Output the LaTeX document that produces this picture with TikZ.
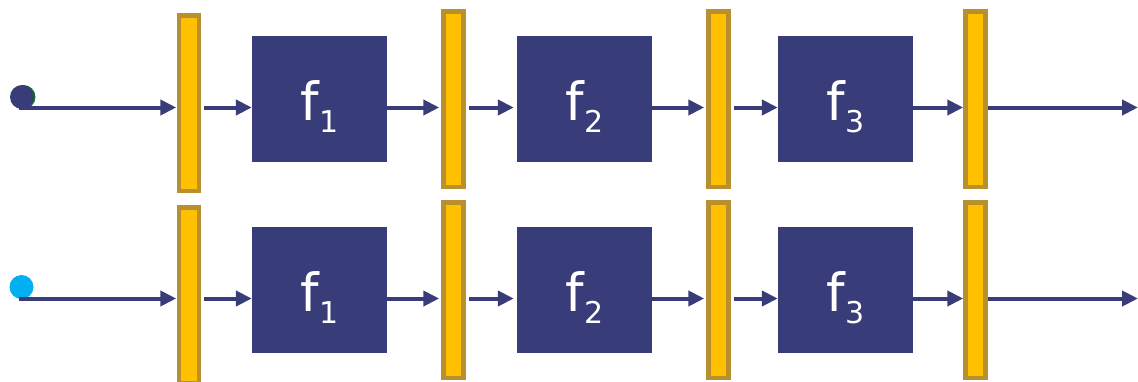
\documentclass[tikz,border=0pt]{standalone}
\usepackage{fontspec}
\setmainfont{DejaVu Sans}
\usetikzlibrary{arrows.meta}
\definecolor{navy}{HTML}{383C78}
\definecolor{barfill}{HTML}{FFC000}
\definecolor{barrim}{HTML}{B8902F}
\definecolor{rimgreen}{HTML}{0A7A10}
\definecolor{skyblue}{HTML}{00B0F0}
\tikzset{
  fbox/.style={fill=navy, draw=none, minimum width=135pt, minimum height=126pt,
    inner sep=0pt, text=white, text height=42pt, text depth=0pt,
    font=\fontsize{52.6}{60}\selectfont},
  latch/.style={fill=barfill, draw=barrim, line width=4.5pt,
    minimum width=20pt, minimum height=175.5pt, inner sep=0pt},
  dot/.style={circle, draw=none, minimum size=24pt, inner sep=0pt},
  arr/.style={draw=navy, line width=4pt, -{Triangle[length=16pt,width=15pt]}},
}
\newcommand{\fsub}[1]{f\raisebox{-12pt}{\fontsize{30}{30}\selectfont #1}}
\begin{document}
\begin{tikzpicture}[x=1pt,y=-1pt]
\useasboundingbox (0,0) rectangle (1138,381);
\clip (0,0) rectangle (1138,381);

% ---------- upper pipeline ----------
\coordinate (r1) at (0,107.5);
\node[dot, fill=rimgreen] (d1g) at (23.5,97) {};
\node[dot, fill=navy] (d1) at (22,97) {};
\node[latch] (b11) at (189,103) {};
\node[latch] (b12) at (453.5,99) {};
\node[latch] (b13) at (718.5,99) {};
\node[latch] (b14) at (975.5,99) {};
\node[fbox] (f11) at (319.5,99) {\fsub{1}};
\node[fbox] (f12) at (584.5,99) {\fsub{2}};
\node[fbox] (f13) at (845.5,99) {\fsub{3}};
\coordinate (e1) at (1138,107.5);

\draw[arr] ([xshift=-3pt]d1.center |- r1) -- ([xshift=-0.5pt]b11.west |- r1);
\draw[arr, shorten <=3pt] (b11.east |- r1) -- (f11.west |- r1);
\draw[arr, shorten >=2pt] (f11.east |- r1) -- (b12.west |- r1);
\draw[arr, shorten <=3pt, shorten >=3pt] (b12.east |- r1) -- (f12.west |- r1);
\draw[arr, shorten >=2pt] (f12.east |- r1) -- (b13.west |- r1);
\draw[arr, shorten <=3pt] (b13.east |- r1) -- (f13.west |- r1);
\draw[arr] (f13.east |- r1) -- (b14.west |- r1);
\draw[arr] (b14.east |- r1) -- (e1);

% ---------- lower pipeline ----------
\coordinate (r2) at (0,298.5);
\node[dot, fill=skyblue] (d2) at (21.5,287) {};
\node[latch] (b21) at (189,295) {};
\node[latch] (b22) at (453.5,290) {};
\node[latch] (b23) at (718.5,290) {};
\node[latch] (b24) at (975.5,290) {};
\node[fbox] (f21) at (319.5,290) {\fsub{1}};
\node[fbox] (f22) at (584.5,290) {\fsub{2}};
\node[fbox] (f23) at (845.5,290) {\fsub{3}};
\coordinate (e2) at (1138,298.5);

\draw[arr] ([xshift=-2.5pt]d2.center |- r2) -- ([xshift=-0.5pt]b21.west |- r2);
\draw[arr, shorten <=3pt] (b21.east |- r2) -- (f21.west |- r2);
\draw[arr, shorten >=2pt] (f21.east |- r2) -- (b22.west |- r2);
\draw[arr, shorten <=3pt, shorten >=3pt] (b22.east |- r2) -- (f22.west |- r2);
\draw[arr, shorten >=2pt] (f22.east |- r2) -- (b23.west |- r2);
\draw[arr, shorten <=3pt] (b23.east |- r2) -- (f23.west |- r2);
\draw[arr] (f23.east |- r2) -- (b24.west |- r2);
\draw[arr] (b24.east |- r2) -- (e2);
\end{tikzpicture}
\end{document}
